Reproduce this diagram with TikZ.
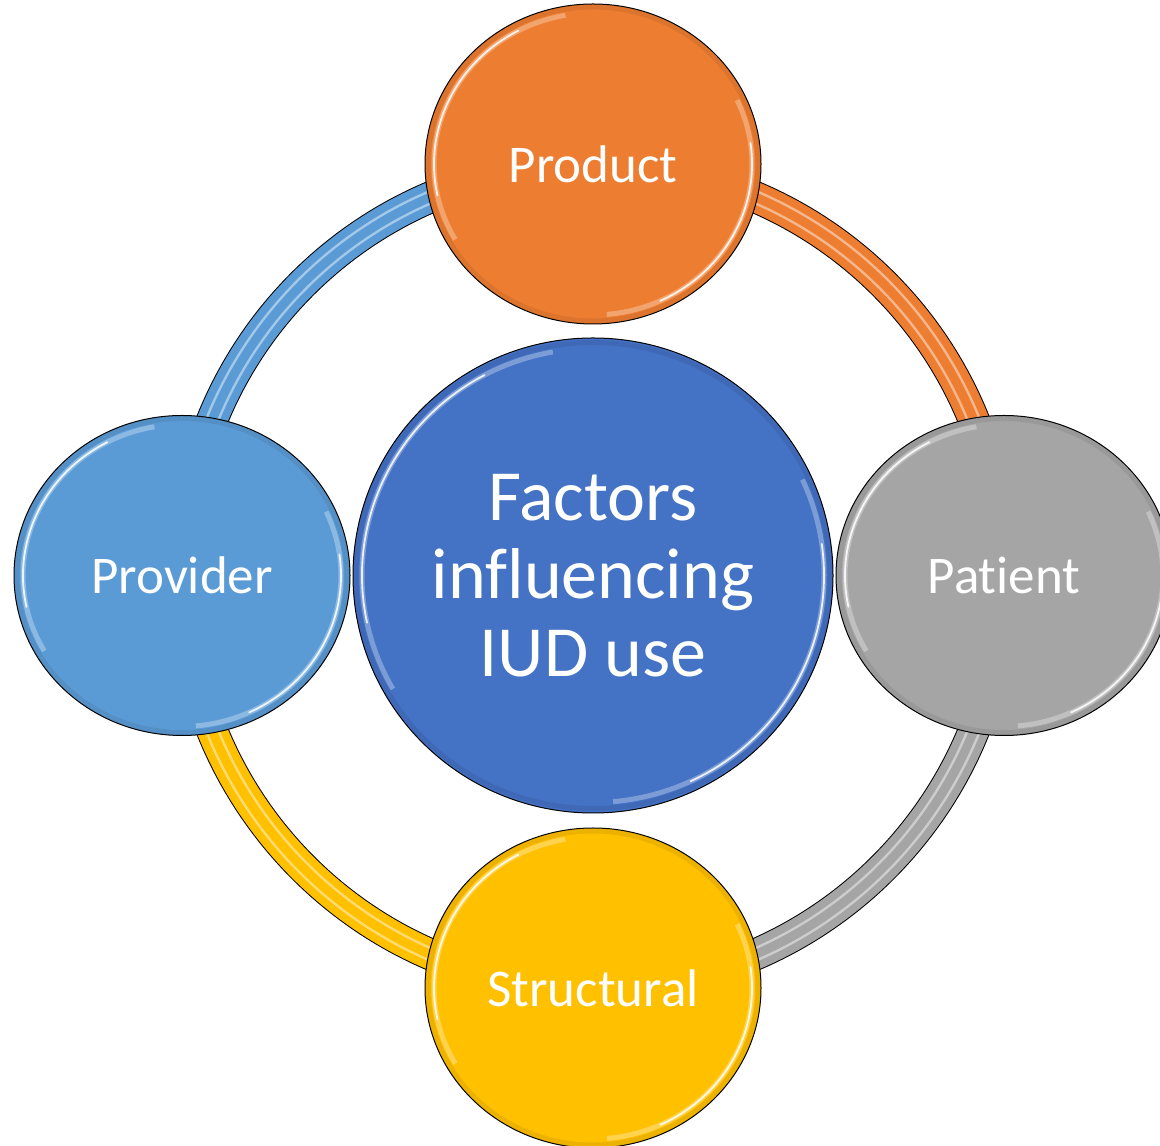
\documentclass[tikz,border=0pt]{standalone}
\usepackage{fontspec}
\setmainfont{Carlito}[Ligatures=NoCommon]
\usepackage{tikz}
\usetikzlibrary{shapes.geometric,positioning,backgrounds}
\definecolor{hubblue}{HTML}{4472C4}
\definecolor{productorange}{HTML}{ED7D31}
\definecolor{patientgray}{HTML}{A5A5A5}
\definecolor{providerblue}{HTML}{5B9BD5}
\definecolor{structgold}{HTML}{FFC000}
% glossy rim inside a disc, #1/#2 = radii of the rim
\newcommand{\glint}[2]{%
	\draw [black, draw opacity=.07, line width=5pt] (path picture bounding box.center) ellipse [x radius=#1+6pt, y radius=#2+6pt];
	\draw [white, draw opacity=.3, line width=5pt] (path picture bounding box.center) ++(100:#1 and #2) arc [start angle=100, end angle=210, x radius=#1, y radius=#2];
	\draw [white, draw opacity=.85, line width=1.8pt, line cap=round] (path picture bounding box.center) ++(118:#1 and #2) arc [start angle=118, end angle=192, x radius=#1, y radius=#2];
	\draw [white, draw opacity=.3, line width=5pt] (path picture bounding box.center) ++(-85:#1 and #2) arc [start angle=-85, end angle=25, x radius=#1, y radius=#2];
	\draw [white, draw opacity=.85, line width=1.8pt, line cap=round] (path picture bounding box.center) ++(-65:#1 and #2) arc [start angle=-65, end angle=8, x radius=#1, y radius=#2];
}

\begin{document}
\begin{tikzpicture}[x=1pt, y=1pt,
	hub/.style={ellipse, draw=black, line width=1pt, fill=hubblue, minimum width=480pt, minimum height=475pt, inner sep=0pt, text=white, align=center, font=\fontsize{72}{78}\selectfont, path picture={\glint{231pt}{227pt}}},
	factor/.style={ellipse, draw=black, line width=1pt, fill=#1, minimum width=336pt, minimum height=320pt, inner sep=0pt, text=white, font=\fontsize{53}{60}\selectfont, path picture={\glint{159pt}{151pt}}},
	ring/.style={draw=#1, line width=9pt, preaction={draw=black, line width=32pt}, preaction={draw=#1, line width=30pt}, preaction={draw=white, draw opacity=.45, line width=14pt}}]
	
	\useasboundingbox (0,0) rectangle (1160,1146);
	
	% FACTORS
	
	\node [hub] (hub) at (593,570.5) {Factors\\influencing\\IUD use};
	
	\node [factor=productorange, above=13pt of hub] (product) {Product};
	\node [factor=providerblue, left=2pt of hub] (provider) {Provider};
	\node [factor=patientgray, right=2pt of hub] (patient) {Patient};
	\node [factor=structgold, below=14pt of hub] (structural) {Structural};
	
	% RING
	
	\begin{scope}[on background layer]
		\draw [ring=providerblue] (provider.center) to[out=90, in=180] (product.center);
		\draw [ring=productorange] (product.center) to[out=0, in=90] (patient.center);
		\draw [ring=patientgray] (patient.center) to[out=-90, in=0] (structural.center);
		\draw [ring=structgold] (structural.center) to[out=180, in=-90] (provider.center);
	\end{scope}
	
\end{tikzpicture}
\end{document}
